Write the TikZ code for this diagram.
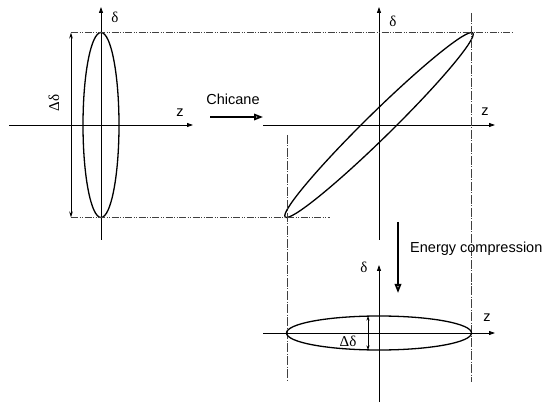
\documentclass[tikz,border=0pt]{standalone}
\usepackage{fontspec}
\setmainfont{Liberation Sans}
\newfontfamily\grk{Liberation Serif}
\usetikzlibrary{arrows.meta}
\begin{document}
\begin{tikzpicture}[x=1pt,y=-1pt,
  axis/.style={line width=0.8pt,-{Triangle[length=6pt,width=4pt]}},
  beam/.style={line width=1.3pt},
  guide/.style={line width=0.6pt,black!75,dash pattern=on 7pt off 1.5pt on 1pt off 1.5pt on 1pt off 1.5pt},
  vguide/.style={line width=0.6pt,black!75,dash pattern=on 9pt off 1.5pt on 1pt off 1.5pt},
  process/.style={line width=1.8pt,-{Triangle[open,length=9pt,width=6.5pt]}},
  lbl/.style={inner sep=0pt,font=\fontsize{14.5}{16}\selectfont},
  glbl/.style={inner sep=0pt,font=\fontsize{15}{17}\selectfont\grk}]
\useasboundingbox (0,0) rectangle (554,403);
% ---------- panel 1 ----------
\coordinate (c1) at (101,125);
\coordinate (a1l) at (9,125);  \coordinate (a1r) at (193,125);
\coordinate (a1b) at (101,240); \coordinate (a1t) at (101,7);
\draw[axis] (a1l) -- (a1r);
\draw[axis] (a1b) -- (a1t);
\draw[beam] (c1) ellipse [x radius=18, y radius=92.5];
\coordinate (d1t) at (71,32.5); \coordinate (d1b) at (71,217.5);
\draw[line width=0.9pt,{Stealth[length=6pt,width=3.5pt]}-{Stealth[length=6pt,width=3.5pt]}] (d1t) -- (d1b);
\node[glbl,rotate=90] (dd1) at (54,103) {Δδ};
\node[glbl] (del1) at (115,17) {δ};
\node[lbl] (z1) at (180,113) {z};
% ---------- panel 2 ----------
\coordinate (c2) at (379,125);
\coordinate (a2l) at (263,125); \coordinate (a2r) at (495,125);
\coordinate (a2b) at (379,240); \coordinate (a2t) at (379,7);
\draw[axis] (a2l) -- (a2r);
\draw[axis] (a2b) -- (a2t);
\begin{scope}[shift={(c2)}]
  \draw[beam,cm={1,0,1,1,(0,0)}] (0,0) ellipse [x radius=18, y radius=92.5];
\end{scope}
\node[glbl] (del2) at (393,21) {δ};
\node[lbl] (z2) at (485,112) {z};
% guides
\coordinate (g1a) at (71,32.5);  \coordinate (g1b) at (512,32.5);
\coordinate (g2a) at (71,217.5); \coordinate (g2b) at (330,217.5);
\coordinate (v1a) at (287,135);  \coordinate (v1b) at (287,380);
\coordinate (v2a) at (471.5,13); \coordinate (v2b) at (471.5,382);
\draw[guide] (g1a) -- (g1b);
\draw[guide] (g2a) -- (g2b);
\draw[vguide] (v1a) -- (v1b);
\draw[vguide] (v2a) -- (v2b);
% chicane
\coordinate (ch1) at (210,117); \coordinate (ch2) at (263,117);
\draw[process] (ch1) -- (ch2);
\node[lbl] (chic) at (233,99) {Chicane};
% energy compression
\coordinate (ec1) at (398,222); \coordinate (ec2) at (398,293);
\draw[process] (ec1) -- (ec2);
\node[lbl,anchor=west] (ecl) at (410,249) {Energy compression};
% ---------- panel 3 ----------
\coordinate (c3) at (379,333);
\coordinate (a3l) at (263,333); \coordinate (a3r) at (495,333);
\coordinate (a3b) at (379,402); \coordinate (a3t) at (379,265);
\draw[axis] (a3l) -- (a3r);
\draw[axis] (a3b) -- (a3t);
\draw[beam] (c3) ellipse [x radius=92.5, y radius=17];
\coordinate (d3t) at (368,316); \coordinate (d3b) at (368,350);
\draw[line width=0.7pt,{Stealth[length=4.5pt,width=3pt]}-{Stealth[length=4.5pt,width=3pt]}] (d3t) -- (d3b);
\node[glbl] (dd3) at (348,341) {Δδ};
\node[glbl] (del3) at (364,267) {δ};
\node[lbl] (z3) at (487,318) {z};
\end{tikzpicture}
\end{document}
